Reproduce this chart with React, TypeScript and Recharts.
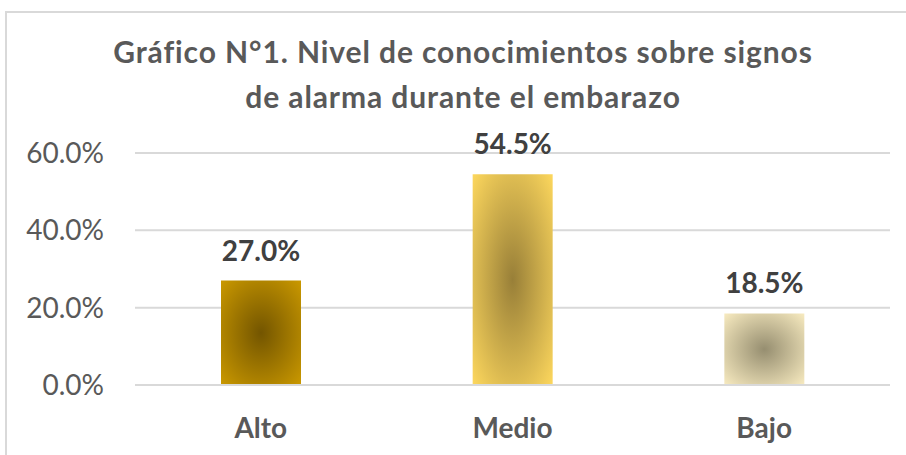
import React from 'react'
import { BarChart, Bar, XAxis, YAxis, CartesianGrid, Cell, LabelList } from 'recharts'

const categories = ['Alto', 'Medio', 'Bajo']
const values = [0.27, 0.545, 0.185]
const yTicks = [0, 0.2, 0.4, 0.6]
const titleLines = ['Gráfico N°1. Nivel de conocimientos sobre signos', 'de alarma durante el embarazo']

// edge colour, centre colour for each bar's radial fill
const edgeColors = ['#CC9A00', '#FFD95E', '#FAEDC2']
const centerColors = ['#735500', '#987F38', '#968E70']

const FONT = 'Lato, "Open Sans", sans-serif'
const TEXT = '#595959'
const GRID = '#d9d9d9'

const data = categories.map((name, i) => ({ name, value: values[i] }))

const pct = (v: number) => `${(v * 100).toFixed(1)}%`

export default function App() {
  return (
    <div style={{ position: 'absolute', left: 0, top: 0, width: 906, height: 455, overflow: 'hidden', background: '#fff' }}>
      {/* chart frame, only left/top edges show */}
      <div
        style={{
          position: 'absolute',
          left: 5,
          top: 11,
          width: 1000,
          height: 1000,
          borderLeft: `2px solid ${GRID}`,
          borderTop: `2px solid ${GRID}`,
        }}
      />
      <div
        style={{
          position: 'absolute',
          left: 0,
          top: 29,
          width: 926,
          textAlign: 'center',
          fontFamily: FONT,
          fontWeight: 700,
          fontSize: 30,
          letterSpacing: 0.9,
          lineHeight: '45px',
          color: TEXT,
        }}
      >
        {titleLines.map((l) => (
          <div key={l}>{l}</div>
        ))}
      </div>
      <BarChart
        width={906}
        height={455}
        data={data}
        margin={{ top: 153, right: 16, bottom: 0, left: 0 }}
        barCategoryGap="34%"
        style={{ position: 'absolute', left: 0, top: 0 }}
      >
        <defs>
          {categories.map((c, i) => (
            <radialGradient key={c} id={`grad${i}`} cx="0.5" cy="0.5" r="0.72">
              <stop offset="0%" stopColor={centerColors[i]} />
              <stop offset="100%" stopColor={edgeColors[i]} />
            </radialGradient>
          ))}
        </defs>
        <CartesianGrid vertical={false} stroke={GRID} strokeWidth={2} />
        <XAxis
          dataKey="name"
          height={70}
          tickLine={false}
          tickSize={0}
          tickMargin={33}
          axisLine={{ stroke: GRID, strokeWidth: 2 }}
          tick={{ fontFamily: FONT, fontWeight: 700, fontSize: 28, fill: TEXT }}
        />
        <YAxis
          width={135}
          domain={[0, 0.6]}
          ticks={yTicks}
          tickFormatter={pct}
          axisLine={false}
          tickLine={false}
          tickSize={0}
          tickMargin={31}
          tick={{ fontFamily: FONT, fontSize: 28, fill: TEXT }}
        />
        <Bar dataKey="value" barSize={80} isAnimationActive={false}>
          {data.map((d, i) => (
            <Cell key={d.name} fill={`url(#grad${i})`} />
          ))}
          <LabelList
            dataKey="value"
            position="top"
            offset={20}
            formatter={(v: number) => pct(v)}
            style={{ fontFamily: FONT, fontWeight: 700, fontSize: 28, fill: '#404040' }}
          />
        </Bar>
      </BarChart>
    </div>
  )
}
